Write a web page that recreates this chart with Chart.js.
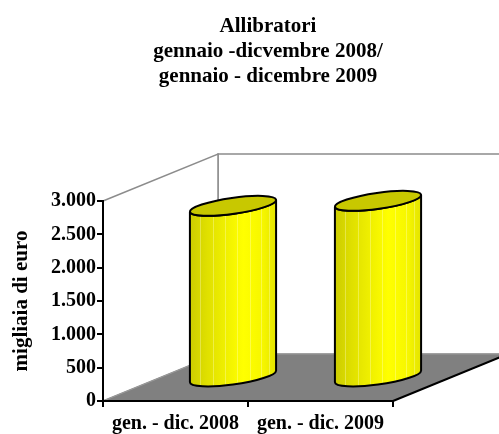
<!DOCTYPE html>
<html>
<head>
<meta charset="utf-8">
<script src="https://cdn.jsdelivr.net/npm/chart.js@4.4.0/dist/chart.umd.min.js"></script>
<style>
  html, body { margin: 0; padding: 0; background: #fff; }
</style>
</head>
<body>
<canvas id="chart" width="499" height="434"></canvas>
<script>
// data
const categories = ["gen. - dic. 2008", "gen. - dic. 2009"];
const values = [2575, 2650];
const yTicks = [0, 500, 1000, 1500, 2000, 2500, 3000];
const titleLines = ["Allibratori", "gennaio -dicvembre 2008/", "gennaio - dicembre 2009"];
const yTitle = "migliaia di euro";

const FONT = "'Liberation Serif', 'Times New Roman', serif";
const DEPTH = { x: 115, y: -47 }; // 3d offset of the back plane

function fmt(v) {
  return String(v).replace(/\B(?=(\d{3})+(?!\d))/g, ".");
}

// walls and floor, drawn before the axes
const boxPlugin = {
  id: "box3d",
  beforeDraw(chart) {
    const ctx = chart.ctx;
    const a = chart.chartArea;
    const ys = chart.scales.y;
    const top = ys.getPixelForValue(ys.max);
    const bot = ys.getPixelForValue(0);
    const L = a.left, R = a.right, dx = DEPTH.x, dy = DEPTH.y;

    ctx.save();
    ctx.lineWidth = 1.5;
    ctx.strokeStyle = "#8c8c8c";
    ctx.fillStyle = "#fff";

    // back wall
    ctx.beginPath();
    ctx.moveTo(L + dx, top + dy);
    ctx.lineTo(R + dx + 20, top + dy);
    ctx.lineTo(R + dx + 20, bot + dy);
    ctx.lineTo(L + dx, bot + dy);
    ctx.closePath();
    ctx.fill();
    ctx.stroke();

    // side wall
    ctx.beginPath();
    ctx.moveTo(L, top);
    ctx.lineTo(L + dx, top + dy);
    ctx.lineTo(L + dx, bot + dy);
    ctx.lineTo(L, bot);
    ctx.closePath();
    ctx.fill();
    ctx.stroke();

    // floor
    ctx.fillStyle = "#808080";
    ctx.beginPath();
    ctx.moveTo(L, bot);
    ctx.lineTo(R, bot);
    ctx.lineTo(R + dx, bot + dy);
    ctx.lineTo(L + dx, bot + dy);
    ctx.closePath();
    ctx.fill();
    ctx.strokeStyle = "#9a9a9a";
    ctx.lineWidth = 1;
    ctx.stroke();

    // right edge of floor
    ctx.strokeStyle = "#000";
    ctx.lineWidth = 2;
    ctx.beginPath();
    ctx.moveTo(R, bot);
    ctx.lineTo(R + dx, bot + dy);
    ctx.stroke();
    ctx.restore();
  }
};

// cylinders built on the bar elements
const cylinderPlugin = {
  id: "cylinders",
  afterDatasetsDraw(chart) {
    const ctx = chart.ctx;
    const meta = chart.getDatasetMeta(0);
    meta.data.forEach((bar) => {
      const p = bar.getProps(["x", "y", "base", "width"], true);
      const cx = p.x + DEPTH.x / 2;
      const ty = p.y + DEPTH.y / 2;
      const by = p.base + DEPTH.y / 2;
      const ra = p.width / 2, rb = 8, rot = -0.14;
      const t0 = Math.atan2(-rb * Math.sin(rot), ra * Math.cos(rot));
      const ex = ra * Math.cos(t0) * Math.cos(rot) - rb * Math.sin(t0) * Math.sin(rot);
      const ey = ra * Math.cos(t0) * Math.sin(rot) + rb * Math.sin(t0) * Math.cos(rot);

      const bodyPath = () => {
        ctx.beginPath();
        ctx.moveTo(cx - ex, ty - ey);
        ctx.lineTo(cx - ex, by - ey);
        ctx.ellipse(cx, by, ra, rb, rot, t0 + Math.PI, t0, true);
        ctx.lineTo(cx + ex, ty + ey);
        ctx.ellipse(cx, ty, ra, rb, rot, t0, t0 + Math.PI, false);
        ctx.closePath();
      };

      ctx.save();
      bodyPath();
      const g = ctx.createLinearGradient(cx - ex, 0, cx + ex, 0);
      g.addColorStop(0, "#cccc00");
      g.addColorStop(0.2, "#e0e000");
      g.addColorStop(0.62, "#ffff00");
      g.addColorStop(0.85, "#f6f600");
      g.addColorStop(1, "#e4e400");
      ctx.fillStyle = g;
      ctx.fill();

      // faint vertical streaks
      ctx.save();
      ctx.clip();
      ctx.strokeStyle = "rgba(255,255,200,0.35)";
      ctx.lineWidth = 1;
      [0.12, 0.27, 0.41, 0.55, 0.7, 0.83, 0.92].forEach((f) => {
        const x = Math.round(cx - ex + f * 2 * ex) + 0.5;
        ctx.beginPath();
        ctx.moveTo(x, ty - 20);
        ctx.lineTo(x, by + 20);
        ctx.stroke();
      });
      ctx.restore();

      // outline
      bodyPath();
      ctx.lineWidth = 2;
      ctx.strokeStyle = "#000";
      ctx.stroke();

      // top face
      ctx.beginPath();
      ctx.ellipse(cx, ty, ra, rb, rot, 0, Math.PI * 2);
      ctx.fillStyle = "#c8c800";
      ctx.fill();
      ctx.stroke();
      ctx.restore();
    });
  }
};

const titlePlugin = {
  id: "titleLines",
  afterDraw(chart) {
    const ctx = chart.ctx;
    ctx.save();
    ctx.font = "bold 21px " + FONT;
    ctx.fillStyle = "#000";
    ctx.textAlign = "center";
    ctx.textBaseline = "alphabetic";
    titleLines.forEach((t, i) => ctx.fillText(t, 268, 32 + i * 25));
    ctx.restore();
  }
};

const tickFont = { family: FONT, size: 20, weight: "bold" };

new Chart(document.getElementById("chart").getContext("2d"), {
  type: "bar",
  data: {
    labels: categories,
    datasets: [{
      data: values,
      backgroundColor: "rgba(0,0,0,0)",
      borderWidth: 0,
      categoryPercentage: 1,
      barPercentage: 0.6
    }]
  },
  options: {
    responsive: false,
    animation: false,
    layout: { padding: { top: 201, right: 106, bottom: 0, left: 0 } },
    plugins: {
      legend: { display: false },
      tooltip: { enabled: false },
      title: { display: false }
    },
    scales: {
      x: {
        grid: { drawOnChartArea: false, offset: true, tickLength: 6, color: "#000", lineWidth: 2 },
        border: { display: true, color: "#000", width: 2 },
        ticks: { color: "#000", font: tickFont, padding: 5, maxRotation: 0, autoSkip: false },
        afterFit(s) { s.height = 33; }
      },
      y: {
        min: 0,
        max: 3000,
        afterBuildTicks(s) { s.ticks = yTicks.map((v) => ({ value: v })); },
        grid: { drawOnChartArea: false, tickLength: 6, color: "#000", lineWidth: 2 },
        border: { display: true, color: "#000", width: 2 },
        ticks: { color: "#000", font: tickFont, padding: 1, callback: (v) => fmt(v) },
        title: {
          display: true,
          text: yTitle,
          color: "#000",
          font: { family: FONT, size: 21, weight: "bold" },
          padding: { top: 9, bottom: 0 }
        },
        afterFit(s) { s.width = 103; }
      }
    }
  },
  plugins: [boxPlugin, cylinderPlugin, titlePlugin]
});
</script>
</body>
</html>
